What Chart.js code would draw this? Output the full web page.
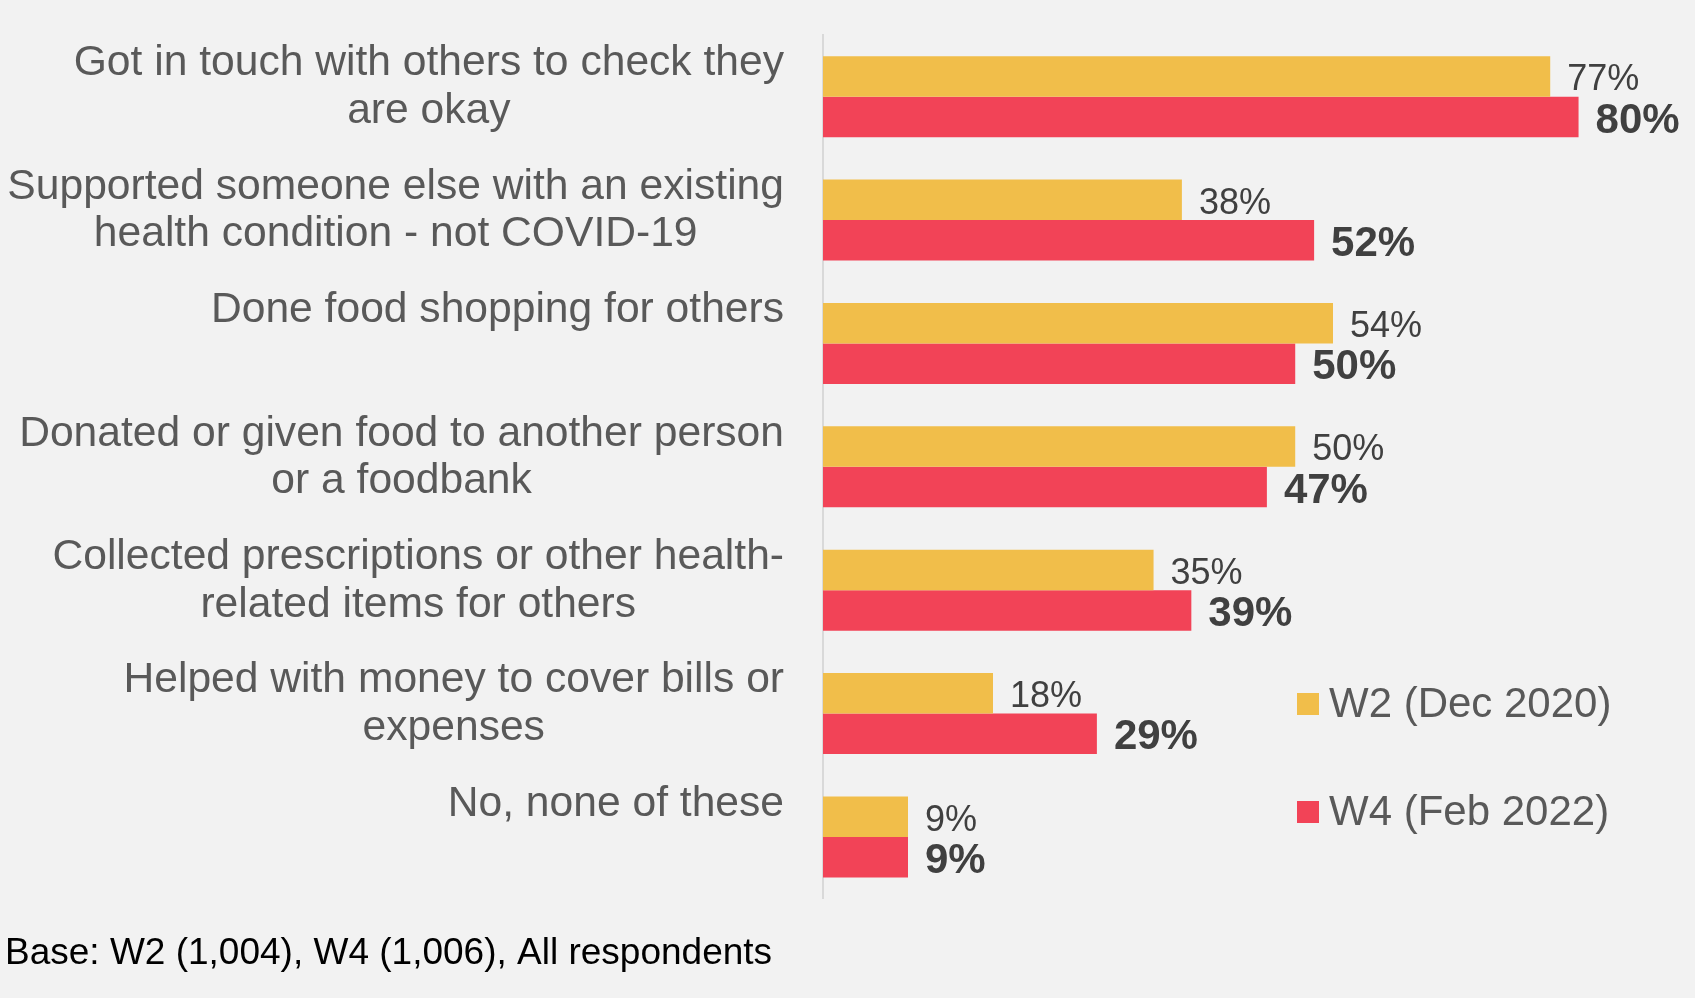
<!DOCTYPE html>
<html>
<head>
<meta charset="utf-8">
<script src="https://cdn.jsdelivr.net/npm/chart.js@4/dist/chart.umd.min.js"></script>
<style>
  html, body { margin: 0; padding: 0; background: #f2f2f2; }
  #wrap { width: 1695px; height: 998px; }
</style>
</head>
<body>
<div id="wrap"><canvas id="helpChart" width="1695" height="998"></canvas></div>
<script>
// categories (each entry = the lines of the label)
const categories = [
  ["Got in touch with others to check they", "are okay"],
  ["Supported someone else with an existing", "health condition - not COVID-19"],
  ["Done food shopping for others"],
  ["Donated or given food to another person", "or a foodbank"],
  ["Collected prescriptions or other health-", "related items for others"],
  ["Helped with money to cover bills or", "expenses"],
  ["No, none of these"],
];

const seriesNames = ["W2 (Dec 2020)", "W4 (Feb 2022)"];
const w2Values = [77, 38, 54, 50, 35, 18, 9];
const w4Values = [80, 52, 50, 47, 39, 29, 9];
const baseNote = "Base: W2 (1,004), W4 (1,006), All respondents";

const FONT = "'Liberation Sans', Arial, sans-serif";
const YELLOW = "#f1be4a";
const RED = "#f24357";

// category labels: block right aligned, lines centred inside it
const categoryLabels = {
  id: "categoryLabels",
  afterDraw(chart) {
    const ctx = chart.ctx;
    const yScale = chart.scales.y;
    ctx.save();
    ctx.font = "42.6px " + FONT;
    ctx.fillStyle = "#595959";
    ctx.textAlign = "center";
    ctx.textBaseline = "middle";
    chart.data.labels.forEach((lines, i) => {
      const maxW = Math.max(...lines.map((l) => ctx.measureText(l).width));
      const cx = 784 - maxW / 2;
      const y0 = yScale.getPixelForValue(i) - 33;
      lines.forEach((line, j) => ctx.fillText(line, cx, y0 + j * 47.6));
    });
    ctx.restore();
  },
};

// value labels at the end of each bar
const valueLabels = {
  id: "valueLabels",
  afterDatasetsDraw(chart) {
    const ctx = chart.ctx;
    ctx.save();
    ctx.fillStyle = "#404040";
    ctx.textAlign = "left";
    ctx.textBaseline = "middle";
    chart.data.datasets.forEach((ds, di) => {
      ctx.font = di === 0 ? "36px " + FONT : "bold 42px " + FONT;
      chart.getDatasetMeta(di).data.forEach((bar, i) => {
        ctx.fillText(ds.data[i] + "%", bar.x + 17, bar.y + 4);
      });
    });
    ctx.restore();
  },
};

// legend on the right, stacked
const sideLegend = {
  id: "sideLegend",
  afterDraw(chart) {
    const ctx = chart.ctx;
    const rows = [704, 812];
    ctx.save();
    ctx.font = "42px " + FONT;
    ctx.textAlign = "left";
    ctx.textBaseline = "middle";
    chart.data.datasets.forEach((ds, i) => {
      ctx.fillStyle = ds.backgroundColor;
      ctx.fillRect(1297, rows[i] - 11, 22, 22);
      ctx.fillStyle = "#595959";
      ctx.fillText(ds.label, 1329, rows[i] + 1);
    });
    ctx.restore();
  },
};

new Chart(document.getElementById("helpChart"), {
  type: "bar",

  data: {
    labels: categories,

    datasets: [
      {
        label: seriesNames[0],
        data: w2Values,
        backgroundColor: YELLOW,
        categoryPercentage: 0.657,
        barPercentage: 1,
      },
      {
        label: seriesNames[1],
        data: w4Values,
        backgroundColor: RED,
        categoryPercentage: 0.657,
        barPercentage: 1,
      },
    ],
  },

  options: {
    indexAxis: "y",
    responsive: false,
    animation: false,

    layout: {
      padding: { left: 5, top: 35, right: 22, bottom: 22 },
    },

    plugins: {
      legend: { display: false },
      tooltip: { enabled: false },

      title: {
        display: true,
        text: baseNote,
        position: "bottom",
        align: "start",
        color: "#000000",
        font: { family: FONT, size: 37, weight: "normal" },
        padding: { top: 33, bottom: 0 },
      },
    },

    scales: {
      x: {
        display: false,
        min: 0,
        max: 90,
      },

      y: {
        grid: { display: false, drawTicks: false },
        border: { display: true, color: "#d9d9d9", width: 2 },
        ticks: { display: false },
        afterFit(scale) {
          scale.width = 818;
        },
      },
    },
  },

  plugins: [categoryLabels, valueLabels, sideLegend],
});
</script>
</body>
</html>
